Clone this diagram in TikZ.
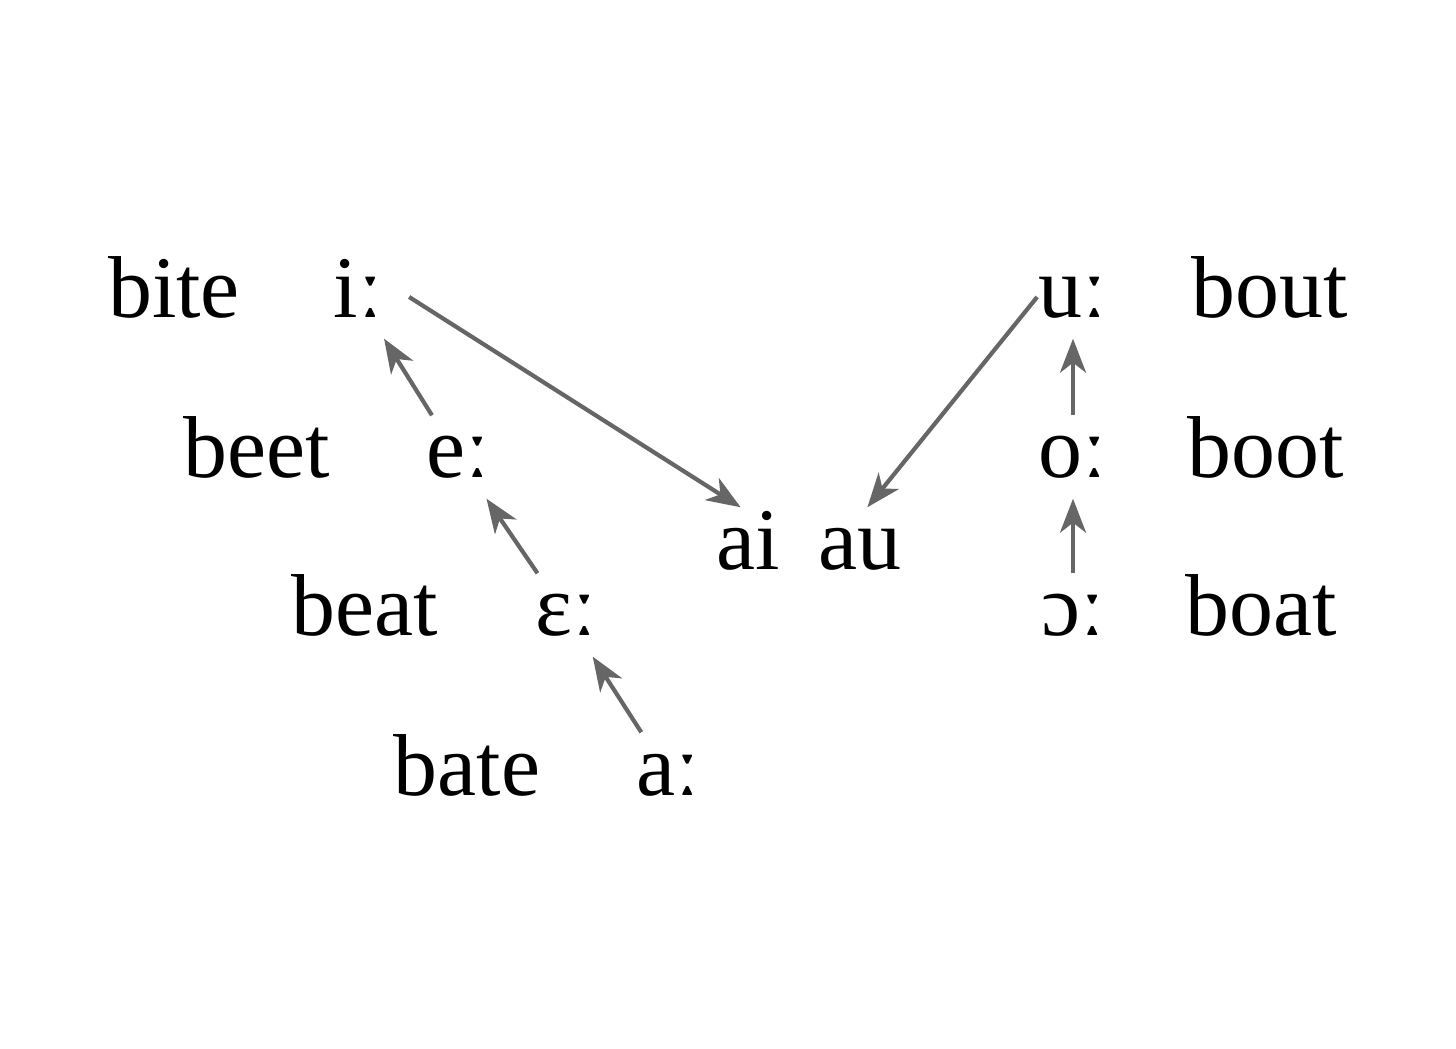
\documentclass[tikz,border=0pt]{standalone}
\usepackage{fontspec}
\setmainfont{Liberation Serif}
\usetikzlibrary{arrows.meta}
\tikzset{
  >={Stealth[length=3.4mm,width=2.6mm,inset=1mm]},
  wrd/.style={anchor=base,font=\fontsize{25}{30}\selectfont,inner sep=0pt},
  vwl/.style={anchor=base,font=\fontsize{25}{30}\selectfont,
    text height=4.2mm,text depth=0mm,inner xsep=1mm,inner ysep=2mm},
  chg/.style={->,draw=black!60,line width=0.42mm},
}
\begin{document}
\begin{tikzpicture}
  \useasboundingbox (0,0) rectangle (14.56,10.48);
  % front vowels
  \node[wrd] (bite) at (1.74,7.30) {bite};
  \node[wrd] (beet) at (2.57,5.70) {beet};
  \node[wrd] (beat) at (3.65,4.12) {beat};
  \node[wrd] (bate) at (4.67,2.53) {bate};
  \node[vwl] (ii) at (3.58,7.30) {iː};
  \node[vwl] (ee) at (4.58,5.70) {eː};
  \node[vwl] (eps) at (5.66,4.12) {ɛː};
  \node[vwl] (aa) at (6.68,2.53) {aː};
  % back vowels
  \node[vwl] (uu) at (10.73,7.30) {uː};
  \node[vwl] (oo) at (10.73,5.70) {oː};
  \node[vwl] (oc) at (10.73,4.12) {ɔː};
  \node[wrd] (bout) at (12.70,7.30) {bout};
  \node[wrd] (boot) at (12.66,5.70) {boot};
  \node[wrd] (boat) at (12.61,4.12) {boat};
  % diphthongs
  \node[vwl] (ai) at (7.48,4.78) {ai};
  \node[vwl] (au) at (8.60,4.78) {au};

  \draw[chg] (aa) -- (eps);
  \draw[chg] (eps) -- (ee);
  \draw[chg] (ee) -- (ii);
  \draw[chg] ([xshift=1.6mm]ii.east) -- (ai.100);
  \draw[chg] (oc) -- (oo);
  \draw[chg] (oo) -- (uu);
  \draw[chg] ([xshift=0.9mm]uu.west) -- (au.80);
\end{tikzpicture}
\end{document}
